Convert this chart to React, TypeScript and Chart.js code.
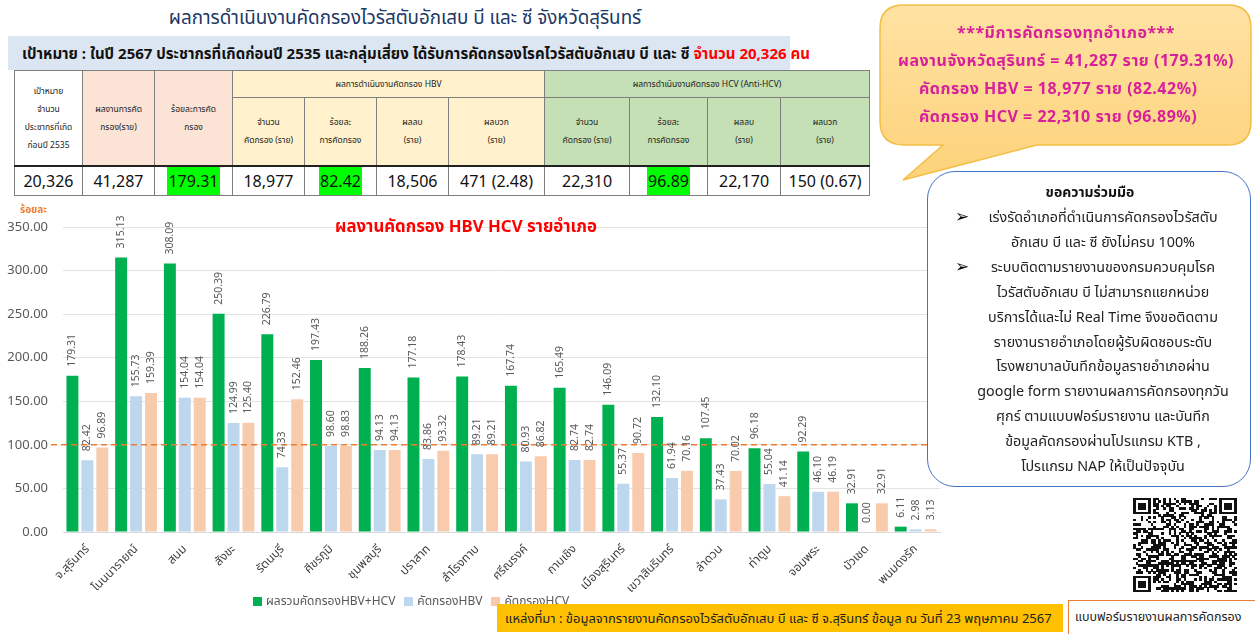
import React, { useEffect, useRef } from "react";
import { Chart, registerables } from "chart.js";
Chart.register(...registerables);

const FONT = "'Noto Sans', 'Noto Sans Thai', Tahoma, sans-serif";

const districts = ["จ.สุรินทร์", "โนนนารายณ์", "สนม", "สังขะ", "รัตนบุรี", "ศีขรภูมิ", "ชุมพลบุรี", "ปราสาท", "สำโรงทาบ", "ศรีณรงค์", "กาบเชิง", "เมืองสุรินทร์", "เขวาสินรินทร์", "ลำดวน", "ท่าตูม", "จอมพระ", "บัวเชด", "พนมดงรัก"];
const totalPct = [179.31, 315.13, 308.09, 250.39, 226.79, 197.43, 188.26, 177.18, 178.43, 167.74, 165.49, 146.09, 132.10, 107.45, 96.18, 92.29, 32.91, 6.11];
const hbvPct = [82.42, 155.73, 154.04, 124.99, 74.33, 98.60, 94.13, 83.86, 89.21, 80.93, 82.74, 55.37, 61.94, 37.43, 55.04, 46.10, 0.00, 2.98];
const hcvPct = [96.89, 159.39, 154.04, 125.40, 152.46, 98.83, 94.13, 93.32, 89.21, 86.82, 82.74, 90.72, 70.16, 70.02, 41.14, 46.19, 32.91, 3.13];
const seriesNames = ["ผลรวมคัดกรองHBV+HCV", "คัดกรองHBV", "คัดกรองHCV"];
const seriesColors = ["#00B050", "#BDD7EE", "#F8CBAD"];
const targetPct = 100;
const yMax = 350;
const yStep = 50;

const summaryValues = ["20,326", "41,287", "179.31", "18,977", "82.42", "18,506", "471 (2.48)", "22,310", "96.89", "22,170", "150 (0.67)"];
const summaryHighlight = [false, false, true, false, true, false, false, false, true, false, false];
const colWidths = [68, 72, 78, 72, 72, 72, 96, 85, 78, 73, 89];
const subHeaders = [["จำนวน", "คัดกรอง (ราย)"], ["ร้อยละ", "การคัดกรอง"], ["ผลลบ", "(ราย)"], ["ผลบวก", "(ราย)"]];

const calloutLines = [
  "***มีการคัดกรองทุกอำเภอ***",
  "ผลงานจังหวัดสุรินทร์ = 41,287 ราย (179.31%)",
  "คัดกรอง HBV = 18,977 ราย (82.42%)",
  "คัดกรอง HCV = 22,310 ราย (96.89%)",
];

const requestLines = [
  "เร่งรัดอำเภอที่ดำเนินการคัดกรองไวรัสตับ",
  "อักเสบ บี และ ซี ยังไม่ครบ 100%",
  "ระบบติดตามรายงานของกรมควบคุมโรค",
  "ไวรัสตับอักเสบ บี ไม่สามารถแยกหน่วย",
  "บริการได้และไม่ Real Time จึงขอติดตาม",
  "รายงานรายอำเภอโดยผู้รับผิดชอบระดับ",
  "โรงพยาบาลบันทึกข้อมูลรายอำเภอผ่าน",
  "google form รายงานผลการคัดกรองทุกวัน",
  "ศุกร์  ตามแบบฟอร์มรายงาน และบันทึก",
  "ข้อมูลคัดกรองผ่านโปรแกรม KTB ,",
  "โปรแกรม NAP ให้เป็นปัจจุบัน",
];
const bulletLineIdx = [0, 2];

function QR() {
  const n = 41;
  const cells: React.ReactNode[] = [];
  let s = 987654321;
  const isFinder = (r: number, c: number) => {
    const inBox = (r0: number, c0: number) => r >= r0 && r < r0 + 7 && c >= c0 && c < c0 + 7;
    const boxes = [[0, 0], [0, n - 7], [n - 7, 0]];
    for (const [r0, c0] of boxes) {
      if (inBox(r0, c0)) {
        const rr = r - r0, cc = c - c0;
        if (rr === 0 || rr === 6 || cc === 0 || cc === 6) return 1;
        if (rr >= 2 && rr <= 4 && cc >= 2 && cc <= 4) return 1;
        return 0;
      }
    }
    if ((r === 7 && (c < 8 || c >= n - 8)) || (c === 7 && (r < 8 || r >= n - 8)) || (r === n - 8 && c < 8) || (c === n - 8 && r < 8)) return 0;
    return -1;
  };
  const mw = 104 / n;
  const mh = 94 / n;
  for (let r = 0; r < n; r++) {
    for (let c = 0; c < n; c++) {
      s = (s * 1103515245 + 12345) % 2147483648;
      const f = isFinder(r, c);
      const on = f === -1 ? ((s >>> 16) & 1) === 1 : f === 1;
      if (on) cells.push(<div key={r * n + c} style={{ position: "absolute", left: c * mw, top: r * mh, width: mw + 0.2, height: mh + 0.2, background: "#111" }} />);
    }
  }
  return <div style={{ position: "absolute", left: 1133, top: 498, width: 104, height: 94, background: "#fff" }}>{cells}</div>;
}

export default function App() {
  const canvasRef = useRef<HTMLCanvasElement | null>(null);

  useEffect(() => {
    const canvas = canvasRef.current;
    if (!canvas) return;

    const refLinePlugin = {
      id: "refLine",
      afterDatasetsDraw(chart: any) {
        const y = chart.scales.y.getPixelForValue(targetPct);
        const ctx = chart.ctx;
        ctx.save();
        ctx.strokeStyle = "#ED7D31";
        ctx.lineWidth = 1.5;
        ctx.setLineDash([6, 4]);
        ctx.beginPath();
        ctx.moveTo(chart.chartArea.left - 12, y);
        ctx.lineTo(chart.chartArea.right, y);
        ctx.stroke();
        ctx.restore();
      },
    };

    const labelPlugin = {
      id: "barLabels",
      afterDatasetsDraw(chart: any) {
        const ctx = chart.ctx;
        ctx.save();
        ctx.fillStyle = "#595959";
        ctx.font = `10.5px ${FONT}`;
        ctx.textAlign = "left";
        ctx.textBaseline = "middle";
        chart.data.datasets.forEach((ds: any, di: number) => {
          const meta = chart.getDatasetMeta(di);
          meta.data.forEach((bar: any, i: number) => {
            const v = ds.data[i] as number;
            ctx.save();
            ctx.translate(bar.x, bar.y - 9);
            ctx.rotate(-Math.PI / 2);
            ctx.fillText(v.toFixed(2), 0, 0);
            ctx.restore();
          });
        });
        ctx.restore();
      },
    };

    const chart = new Chart(canvas, {
      type: "bar",
      data: {
        labels: districts,
        datasets: [totalPct, hbvPct, hcvPct].map((d, i) => ({
          label: seriesNames[i],
          data: d,
          backgroundColor: seriesColors[i],
          borderWidth: 0,
          barPercentage: 0.8,
          categoryPercentage: 0.92,
        })),
      },
      options: {
        responsive: false,
        animation: false,
        devicePixelRatio: 1,
        layout: { padding: { top: 31, right: 5, left: 0, bottom: 0 } },
        plugins: { legend: { display: false }, tooltip: { enabled: false }, title: { display: false } },
        scales: {
          x: {
            grid: { display: false },
            border: { color: "#D9D9D9" },
            ticks: {
              autoSkip: false,
              minRotation: 45,
              maxRotation: 45,
              color: "#404040",
              font: { family: FONT, size: 12 },
              padding: 2,
            },
            afterFit(scale: any) {
              scale.height = 74;
            },
          },
          y: {
            min: 0,
            max: yMax,
            ticks: {
              stepSize: yStep,
              color: "#595959",
              font: { family: FONT, size: 13 },
              padding: 15,
              callback: (v: any) => Number(v).toFixed(2),
            },
            grid: { color: "#E3E3E3", drawTicks: false },
            border: { display: false },
            afterFit(scale: any) {
              scale.width = 63;
            },
          },
        },
      },
      plugins: [refLinePlugin, labelPlugin],
    });
    return () => chart.destroy();
  }, []);

  const cellBorder = "1px solid #7F7F7F";
  const headerBase: React.CSSProperties = {
    border: cellBorder,
    fontSize: 8.5,
    lineHeight: "18px",
    textAlign: "center",
    verticalAlign: "middle",
    color: "#222",
    padding: 0,
  };

  return (
    <div style={{ position: "absolute", left: 0, top: 0, width: 1255, height: 634, background: "#fff", overflow: "hidden", fontFamily: FONT }}>
      {/* title */}
      <div style={{ position: "absolute", left: 0, width: 810, top: 18, transform: "translateY(-50%)", textAlign: "center", fontSize: 18.8, color: "#203864", whiteSpace: "nowrap" }}>
        ผลการดำเนินงานคัดกรองไวรัสตับอักเสบ บี และ ซี จังหวัดสุรินทร์
      </div>
      {/* banner */}
      <div style={{ position: "absolute", left: 8, top: 36, width: 782, height: 34, background: "#DCE6F2", whiteSpace: "nowrap", lineHeight: "34px", fontSize: 15, fontWeight: 700, color: "#111", paddingLeft: 14, boxSizing: "border-box" }}>
        เป้าหมาย : ในปี 2567 ประชากรที่เกิดก่อนปี 2535 และกลุ่มเสี่ยง ได้รับการคัดกรองโรคไวรัสตับอักเสบ บี และ ซี <span style={{ color: "#FF0000" }}>จำนวน 20,326 คน</span>
      </div>
      {/* table */}
      <table style={{ position: "absolute", left: 14, top: 70, width: 855, borderCollapse: "collapse", tableLayout: "fixed", border: "1.5px solid #444" }}>
        <colgroup>
          {colWidths.map((w, i) => (
            <col key={i} style={{ width: w }} />
          ))}
        </colgroup>
        <tbody>
          <tr style={{ height: 27 }}>
            <td rowSpan={2} style={{ ...headerBase, background: "#FFFFFF" }}>
              เป้าหมาย<br />จำนวน<br />ประชากรที่เกิด<br />ก่อนปี 2535
            </td>
            <td rowSpan={2} style={{ ...headerBase, background: "#FBE3D6" }}>
              ผลงานการคัด<br />กรอง(ราย)
            </td>
            <td rowSpan={2} style={{ ...headerBase, background: "#FBE3D6" }}>
              ร้อยละการคัด<br />กรอง
            </td>
            <td colSpan={4} style={{ ...headerBase, background: "#FFF2CC" }}>ผลการดำเนินงานคัดกรอง HBV</td>
            <td colSpan={4} style={{ ...headerBase, background: "#C5E0B4" }}>ผลการดำเนินงานคัดกรอง HCV (Anti-HCV)</td>
          </tr>
          <tr style={{ height: 68 }}>
            {subHeaders.map((h, i) => (
              <td key={"b" + i} style={{ ...headerBase, background: "#FFF2CC" }}>
                {h[0]}<br />{h[1]}
              </td>
            ))}
            {subHeaders.map((h, i) => (
              <td key={"c" + i} style={{ ...headerBase, background: "#C5E0B4" }}>
                {h[0]}<br />{h[1]}
              </td>
            ))}
          </tr>
          <tr style={{ height: 30 }}>
            {summaryValues.map((v, i) => (
              <td key={i} style={{ border: cellBorder, borderTop: "2.5px solid #222", textAlign: "center", verticalAlign: "middle", fontSize: 16, color: "#111", padding: 0, whiteSpace: "nowrap" }}>
                <span style={{ background: summaryHighlight[i] ? "#00FF00" : "transparent", padding: "3px 1px" }}>{v}</span>
              </td>
            ))}
          </tr>
        </tbody>
      </table>

      {/* chart */}
      <canvas ref={canvasRef} width={945} height={410} style={{ position: "absolute", left: 0, top: 196, width: 945, height: 410 }} />
      <div style={{ position: "absolute", left: 20, top: 210, transform: "translateY(-50%)", fontSize: 10, fontWeight: 700, color: "#ED7D31" }}>ร้อยละ</div>
      <div style={{ position: "absolute", left: 335, top: 227, transform: "translateY(-50%)", fontSize: 16.8, fontWeight: 700, color: "#FF0000", whiteSpace: "nowrap" }}>
        ผลงานคัดกรอง HBV HCV รายอำเภอ
      </div>
      {/* legend */}
      <div style={{ position: "absolute", left: 253, top: 601, transform: "translateY(-50%)", display: "flex", alignItems: "center", fontSize: 12, color: "#595959", whiteSpace: "nowrap" }}>
        {seriesNames.map((n, i) => (
          <span key={i} style={{ display: "inline-flex", alignItems: "center", marginRight: 9 }}>
            <span style={{ display: "inline-block", width: 9, height: 9, background: seriesColors[i], marginRight: 4 }} />
            {n}
          </span>
        ))}
      </div>

      {/* speech bubble */}
      <svg style={{ position: "absolute", left: 0, top: 0 }} width={1255} height={634} viewBox="0 0 1255 634">
        <defs>
          <linearGradient id="bub" x1="0" y1="0" x2="0" y2="1">
            <stop offset="0" stopColor="#FFE2A3" />
            <stop offset="1" stopColor="#FDD27A" />
          </linearGradient>
        </defs>
        <path d="M 904,5 H 1228 Q 1251,5 1251,28 V 121 Q 1251,145 1228,145 H 1037 L 903,180 L 943,145 H 904 Q 880,145 880,121 V 28 Q 880,5 904,5 Z" fill="url(#bub)" stroke="#F4BE45" strokeWidth={1.5} />
      </svg>
      {calloutLines.map((t, i) => (
        <div key={i} style={{ position: "absolute", top: [33, 61, 89, 117][i], transform: "translateY(-50%)", left: i < 2 ? 880 : 919, width: i < 2 ? 372 : undefined, textAlign: i < 2 ? "center" : "left", fontSize: 16, letterSpacing: 0.5, fontWeight: 700, color: "#D9209B", whiteSpace: "nowrap" }}>
          {t}
        </div>
      ))}

      {/* request box */}
      <div style={{ position: "absolute", left: 927, top: 171, width: 324, height: 316, border: "1.5px solid #4472C4", borderRadius: 28, background: "#fff", boxSizing: "border-box" }} />
      <div style={{ position: "absolute", left: 927, width: 326, top: 192, transform: "translateY(-50%)", textAlign: "center", fontSize: 14, fontWeight: 700, color: "#111" }}>ขอความร่วมมือ</div>
      {requestLines.map((t, i) => (
        <React.Fragment key={i}>
          {bulletLineIdx.includes(i) && (
            <div style={{ position: "absolute", left: 955, top: 216 + i * 24.9, transform: "translateY(-50%)", fontSize: 17, fontWeight: 700, color: "#000", fontFamily: "'DejaVu Sans', sans-serif" }}>➢</div>
          )}
          <div style={{ position: "absolute", left: 953, width: 300, top: 217 + i * 24.9, transform: "translateY(-50%)", textAlign: "center", fontSize: 14.3, color: "#222", whiteSpace: "nowrap" }}>
            {t}
          </div>
        </React.Fragment>
      ))}

      <QR />

      {/* footer */}
      <div style={{ position: "absolute", left: 497, top: 604, width: 566, height: 28, background: "#FFC000", lineHeight: "28px", fontSize: 13, color: "#222", paddingLeft: 8, boxSizing: "border-box", whiteSpace: "nowrap" }}>
        แหล่งที่มา : ข้อมูลจากรายงานคัดกรองไวรัสตับอักเสบ บี และ ซี จ.สุรินทร์ ข้อมูล ณ วันที่ 23 พฤษภาคม 2567
      </div>
      <div style={{ position: "absolute", left: 1068, top: 600, width: 190, height: 36, borderTop: "1.5px solid #ED7D31", borderLeft: "1.5px solid #ED7D31", background: "#fff", lineHeight: "32px", fontSize: 12.5, color: "#222", paddingLeft: 6, boxSizing: "border-box", whiteSpace: "nowrap" }}>
        แบบฟอร์มรายงานผลการคัดกรอง
      </div>
    </div>
  );
}
